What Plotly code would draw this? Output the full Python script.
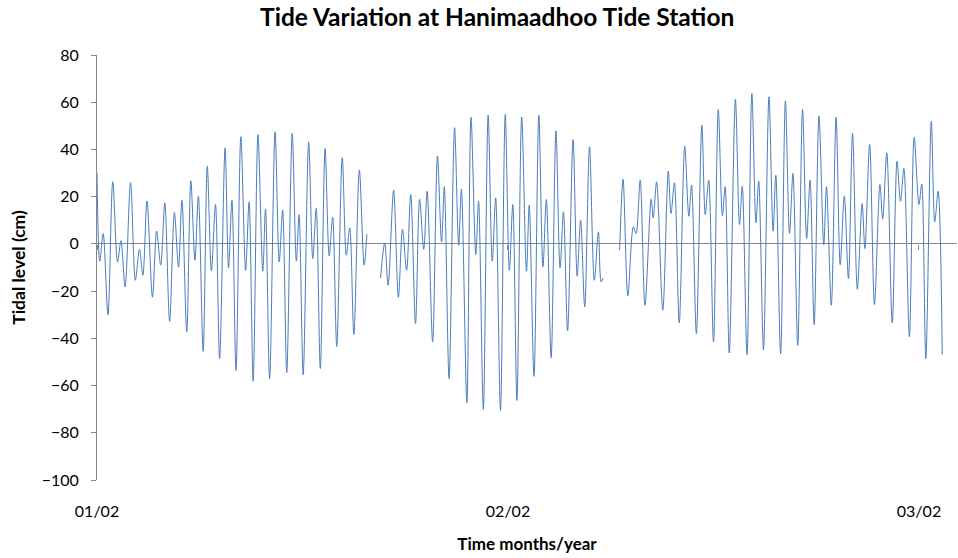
import plotly.graph_objects as go

# Time (hours since start) of turning points; None marks data gaps
hours = [
    0, 4, 9, 16, 23, 30, 35, 41, 49, 56, 62, 67, 73, 81, 87, 93, 99, 106, 113, 119,
    124, 131, 137, 143, 148, 155, 161, 167, 173, 179, 187, 192, 197, 203, 210, 217,
    222, 228, 235, 242, 246, 252, 260, 266, 271, 277, 285, 291, 295, 301, 309, 315,
    320, 326, 333, 339, 344, 350, 358, 364, 369, 375, 383, 390, 394,
    404,
    414, 420, 425, 433, 440, 446, 452, 458, 465, 471, 477, 482, 490, 497, 503, 507,
    514, 522, 528, 532, 540, 546, 553, 557, 564, 571, 577, 582, 589, 596, 602, 607,
    613, 620, 627, 631, 638, 645, 651, 656, 663, 670, 676, 681, 687, 695, 701, 706,
    712, 719, 726, 732, 736, 739,
    750,
    763, 768, 775, 783, 787, 793, 800, 809, 812, 817, 826, 834, 838, 843, 850, 858,
    864, 868, 875, 883, 888, 893, 900, 907, 913, 917, 923, 932, 938, 942, 949, 956,
    962, 966, 973, 981, 987, 991, 998, 1005, 1011, 1016, 1023, 1030, 1036, 1041, 1047,
    1054, 1061, 1065, 1072, 1079, 1085, 1091, 1097, 1103, 1110, 1117, 1121, 1128, 1135,
    1143, 1147, 1153, 1161, 1168, 1173, 1178, 1186, 1193, 1200, 1204, 1210, 1218, 1223,
    1228, 1234,
]

# Tidal level (cm) at those turning points
tidal_level = [
    30, -7.3, 4.4, -30, 26.3, -7.6, 1.4, -18.2, 26, -15.4, -2.3, -13.3, 18.2, -22.6, 5.4, -9,
    17.4, -32.8, 13.3, -9.9, 18.5, -37.3, 26.7, -6.9, 20.2, -45.5, 32.9, -11.4, 16.7, -48.6,
    40.7, -10.2, 18.5, -53.6, 45.4, -11.2, 17.8, -58.2, 46.3, -11.6, 14.7, -57.1, 47.5, -7.6,
    14.3, -54.5, 46.8, -7.3, 12.4, -55.4, 43.2, -6.2, 15, -52.8, 40.4, -5.1, 11.4, -43.4,
    36.5, -4.8, 6.8, -38.4, 31.2, -9, 4.1,
    None,
    -14.4, 0.4, -17.5, 22.8, -22.6, 6.2, -11.2, 20.9, -33.8, 18.9, -2.3, 22.3, -41.5, 37.2,
    0.8, 24.2, -57.1, 49.2, -0.6, 23.2, -67.3, 53.6, -4.5, 18.1, -70.1, 54.5, -7.3, 19.5,
    -70.5, 54.8, -11.2, 16.7, -66.3, 53.8, -11.6, 16.4, -56.1, 54.5, -9.8, 18.8, -48.2, 47.9,
    -10.2, 13.6, -36.9, 44.2, -13.7, 10, -26.7, 41.1, -15.4, 5.1, -16.1, -14.4,
    None,
    -2.7, 27.4, -22, 7.2, 4.4, 27, -26, 18.9, 11, 26.3, -28.1, 30.8, 12.9, 25.9, -33.5, 41.4,
    11.7, 24.9, -38, 50.3, 12.4, 27, -41.5, 56.9, 11.9, 24.2, -46.2, 61.2, 8.2, 24.4, -46.9,
    63.7, 9, 26.6, -44.8, 62.3, 5.4, 29.1, -46.6, 60.6, 4.4, 29.8, -43, 56.9, 2.3, 27, -34.2,
    54.1, -0.3, 24.2, -26, 53.6, -8.8, 20.2, -14.7, 46.8, -19.2, 17.1, -2, 42.1, -25.7,
    25.2, 10.5, 38.6, -33.5, 35, 18.1, 31.9, -39.4, 45.1, 16.7, 25.3, -48.6, 52, 9.3,
    22.3, -46.9,
]

tick_hours = [0, 600, 1200]
tick_labels = ["01/02", "02/02", "03/02"]
y_ticks = [80, 60, 40, 20, 0, -20, -40, -60, -80, -100]

FONT = "Lato"
AXIS_GRAY = "#868686"

fig = go.Figure()
fig.add_trace(go.Scatter(
    x=hours, y=tidal_level, mode="lines",
    line=dict(color="#4a7ebb", width=1, shape="spline", smoothing=0.9),
    connectgaps=False, showlegend=False, hoverinfo="skip",
))
# invisible trace to carry the axis crossing at zero (tick marks)
fig.add_trace(go.Scatter(x=[tick_hours[0]], y=[0], xaxis="x2", mode="markers",
                         marker=dict(opacity=0), showlegend=False, hoverinfo="skip"))

fig.update_layout(
    width=958, height=558,
    paper_bgcolor="white", plot_bgcolor="white",
    margin=dict(l=97, r=1, t=55, b=78, autoexpand=False),
    title=dict(text="<b>Tide Variation at Hanimaadhoo Tide Station</b>",
               x=0.519, xanchor="center", y=0.9695, yanchor="middle",
               font=dict(family=FONT, size=24.5, color="black")),
    font=dict(family=FONT, size=16, color="black"),
    xaxis=dict(
        range=[0, 1255.5], tickvals=tick_hours, ticktext=tick_labels,
        showgrid=False, zeroline=False, showline=False,
        ticks="outside", ticklen=17, tickcolor="rgba(0,0,0,0)",
        tickfont=dict(family=FONT, size=16, color="black"),
        title=dict(text="<b>Time months/year</b>", standoff=18,
                   font=dict(family=FONT, size=17, color="black")),
    ),
    xaxis2=dict(
        matches="x", overlaying="x", anchor="free", position=100 / 180,
        tickvals=tick_hours, ticks="outside", ticklen=5, tickcolor=AXIS_GRAY,
        showticklabels=False, showgrid=False, zeroline=False, showline=False,
        side="bottom",
    ),
    yaxis=dict(
        range=[-100, 80], tickvals=y_ticks,
        showgrid=False, zeroline=True, zerolinecolor=AXIS_GRAY, zerolinewidth=1,
        showline=True, linecolor=AXIS_GRAY, linewidth=1,
        ticks="outside", ticklen=5, tickcolor=AXIS_GRAY, ticklabelstandoff=9,
        tickfont=dict(family=FONT, size=16, color="black"),
        title=dict(text="<b>Tidal level (cm)</b>", standoff=11,
                   font=dict(family=FONT, size=17.5, color="black")),
    ),
)

fig.write_html("out.html", config={"displayModeBar": False},
               post_script="document.body.style.margin='0';")
